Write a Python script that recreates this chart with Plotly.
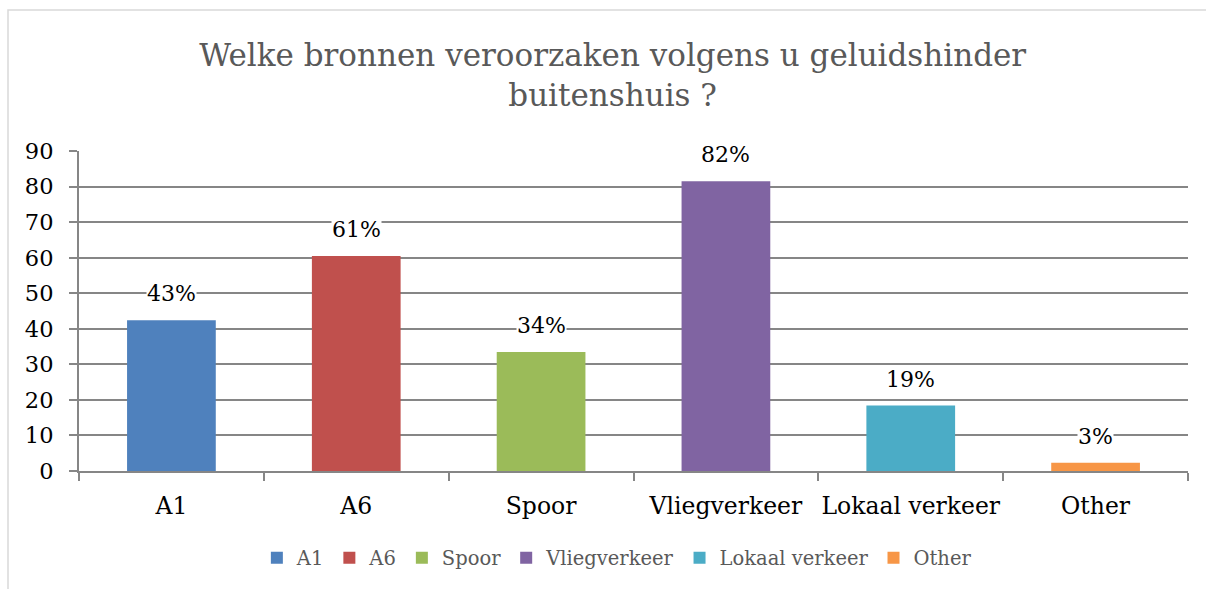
import plotly.graph_objects as go

categories = ["A1", "A6", "Spoor", "Vliegverkeer", "Lokaal verkeer", "Other"]
values = [42.4, 60.5, 33.5, 81.5, 18.4, 2.3]
labels = ["43%", "61%", "34%", "82%", "19%", "3%"]
colors = ["#4F81BD", "#C0504D", "#9BBB59", "#8064A2", "#4BACC6", "#F79646"]
y_ticks = [0, 10, 20, 30, 40, 50, 60, 70, 80, 90]

title_text = "Welke bronnen veroorzaken volgens u geluidshinder<br>buitenshuis ?"
FONT = "DejaVu Serif"

fig = go.Figure()
for cat, val, col in zip(categories, values, colors):
    fig.add_trace(go.Bar(
        x=[cat], y=[val], name=cat,
        marker=dict(color=col, line=dict(width=0)),
        width=0.48,
    ))

for cat, val, lab in zip(categories, values, labels):
    fig.add_annotation(
        x=cat, y=val, text=lab, showarrow=False,
        yanchor="bottom", yshift=13,
        font=dict(family=FONT, size=22, color="#000000"),
        bgcolor="white", borderpad=0,
    )

fig.update_layout(
    width=1206, height=589,
    margin=dict(l=79, r=18, t=151, b=118, autoexpand=False),
    paper_bgcolor="white", plot_bgcolor="white",
    barmode="overlay",
    title=dict(
        text=title_text, x=0.508, xanchor="center",
        y=1 - 66 / 589, yanchor="top",
        font=dict(family=FONT, size=31, color="#595959"),
    ),
    showlegend=True,
    legend=dict(
        orientation="h", x=0.485, xanchor="center", y=-0.272, yanchor="middle",
        font=dict(family=FONT, size=19.5, color="#595959"),
        itemwidth=30, traceorder="normal",
    ),
    shapes=[dict(
        type="rect", xref="paper", yref="paper",
        x0=(8 - 79) / 1109, x1=(1215 - 79) / 1109,
        y0=(471 - 600) / 320, y1=(471 - 10) / 320,
        line=dict(color="#D9D9D9", width=1.5), fillcolor="rgba(0,0,0,0)",
        layer="below",
    )],
)

fig.update_xaxes(
    type="category", categoryorder="array", categoryarray=categories,
    showline=True, linecolor="#868686", linewidth=2,
    ticks="outside", tickson="boundaries", ticklen=8, tickcolor="#868686", tickwidth=2,
    tickfont=dict(family=FONT, size=23.5, color="#000000"),
    tickangle=0,
    showgrid=False, ticklabelstandoff=13, automargin=False,
)
fig.update_yaxes(
    range=[0, 90], tickvals=y_ticks,
    showline=True, linecolor="#868686", linewidth=2,
    ticks="outside", ticklen=8, tickcolor="#868686", tickwidth=2,
    showgrid=True, gridcolor="#868686", gridwidth=2,
    zeroline=False,
    tickfont=dict(family=FONT, size=22.5, color="#000000"),
    ticklabelstandoff=11, automargin=False,
)

fig.write_html(
    "out.html",
    config={"displayModeBar": False},
    post_script="document.body.style.margin='0';",
)
